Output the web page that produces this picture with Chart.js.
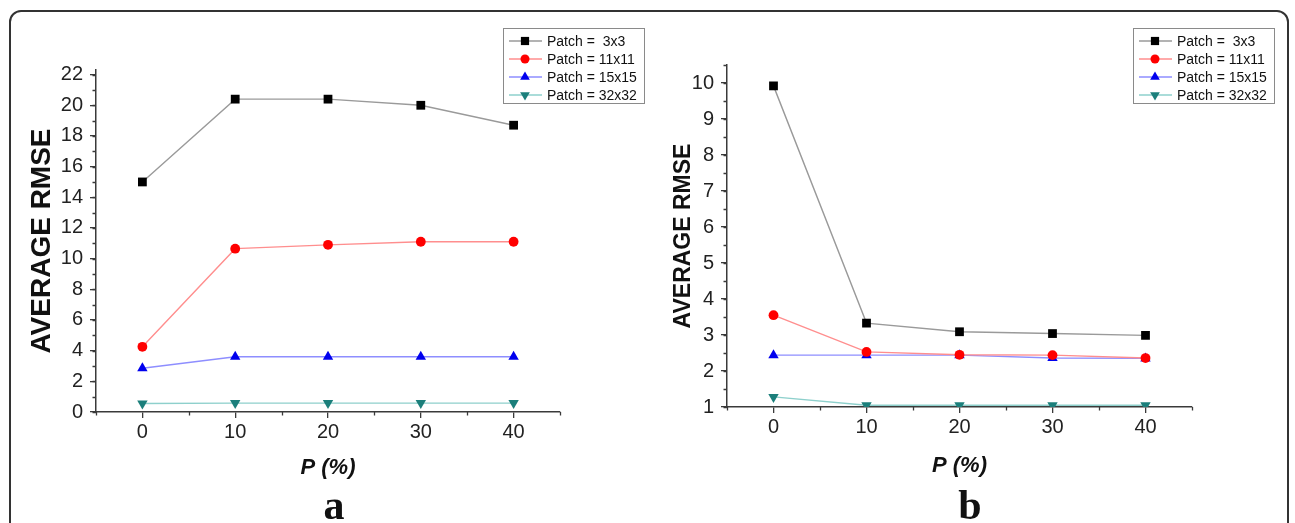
<!DOCTYPE html>
<html>
<head>
<meta charset="utf-8">
<script src="https://cdn.jsdelivr.net/npm/chart.js@4.4.1/dist/chart.umd.min.js"></script>
<style>
  html, body { margin: 0; padding: 0; background: #fff; }
  #page { position: relative; width: 1295px; height: 523px; overflow: hidden; background: #fff; }
  #frame { position: absolute; left: 9px; top: 10px; width: 1280px; height: 560px;
           border: 2px solid #333; border-radius: 12px; box-sizing: border-box; }
  canvas { position: absolute; }
  .panel { position: absolute; width: 60px; text-align: center; color: #111;
           font: bold 42px "Liberation Serif", serif; line-height: 42px; }
</style>
</head>
<body>
<div id="page">
  <div id="frame"></div>
  <canvas id="chartA" width="640" height="470" style="left:10px; top:20px;"></canvas>
  <canvas id="chartB" width="640" height="470" style="left:650px; top:20px;"></canvas>
  <div class="panel" style="left:304px; top:484px;">a</div>
  <div class="panel" style="left:940px; top:484px;">b</div>
</div>
<script>
// x positions shared by both panels
const xValues = [0, 10, 20, 30, 40];
const xTicks = [0, 10, 20, 30, 40];
const seriesLabels = ['Patch =  3x3', 'Patch = 11x11', 'Patch = 15x15', 'Patch = 32x32'];

// panel a
const a3x3 = [15.0, 20.4, 20.4, 20.0, 18.7];
const a11x11 = [4.25, 10.65, 10.9, 11.1, 11.1];
const a15x15 = [2.85, 3.6, 3.6, 3.6, 3.6];
const a32x32 = [0.55, 0.58, 0.58, 0.58, 0.58];
const aYTicks = [0, 2, 4, 6, 8, 10, 12, 14, 16, 18, 20, 22];

// panel b
const b3x3 = [9.92, 3.33, 3.09, 3.04, 2.99];
const b11x11 = [3.55, 2.53, 2.45, 2.44, 2.36];
const b15x15 = [2.44, 2.44, 2.44, 2.36, 2.35];
const b32x32 = [1.28, 1.05, 1.05, 1.05, 1.05];
const bYTicks = [1, 2, 3, 4, 5, 6, 7, 8, 9, 10];

const lineColors = ['#9a9a9a', '#ff8e8e', '#8e8eff', '#8ed0cc'];
const markColors = ['#000000', '#ff0000', '#0000ee', '#1b7f7b'];
const markStyles = ['rect', 'circle', 'triangle', 'triangle'];
const markRotation = [0, 0, 0, 180];
const markRadius = [6.2, 4.9, 6.0, 6.0];

const FONT = '"Liberation Sans", Arial, sans-serif';
const AXIS = '#3a3a3a';

function buildDatasets (series) {
  return series.map((vals, i) => ({
    label: seriesLabels[i],
    data: vals.map((v, j) => ({ x: xValues[j], y: v })),
    borderColor: lineColors[i],
    borderWidth: 1.4,
    backgroundColor: markColors[i],
    pointBackgroundColor: markColors[i],
    pointBorderColor: markColors[i],
    pointBorderWidth: 0,
    pointStyle: markStyles[i],
    rotation: markRotation[i],
    pointRadius: markRadius[i],
    tension: 0
  }))
}

// small unlabelled ticks between the labelled ones
const minorTicks = {
  id: 'minorTicks',
  afterDraw (chart, args, opts) {
    const { ctx, chartArea, scales } = chart
    ctx.save()
    ctx.strokeStyle = AXIS
    ctx.lineWidth = 1.3
    ctx.beginPath()
    const xs = scales.x
    const nx = Math.round((xs.max - xs.min) / opts.xStep)
    for (let k = 0; k <= nx; k++) {
      const v = xs.min + k * opts.xStep
      if (xTicks.includes(v)) continue
      const px = Math.round(xs.getPixelForValue(v)) + 0.5
      ctx.moveTo(px, chartArea.bottom)
      ctx.lineTo(px, chartArea.bottom + 3.5)
    }
    const ys = scales.y
    const ny = Math.floor((ys.max - ys.min) / opts.yStep + 1e-6)
    for (let k = 0; k <= ny; k++) {
      const v = ys.min + k * opts.yStep
      const py = Math.round(ys.getPixelForValue(v)) + 0.5
      ctx.moveTo(chartArea.left, py)
      ctx.lineTo(chartArea.left - 3.5, py)
    }
    ctx.stroke()
    ctx.restore()
  }
}

// boxed legend sitting over the top right of the plot
const boxLegend = {
  id: 'boxLegend',
  afterDraw (chart, args, opts) {
    const { ctx } = chart
    ctx.save()
    ctx.fillStyle = '#fff'
    ctx.fillRect(opts.x, opts.y, opts.w, opts.h)
    ctx.strokeStyle = '#8a8a8a'
    ctx.lineWidth = 1
    ctx.strokeRect(opts.x + 0.5, opts.y + 0.5, opts.w, opts.h)
    ctx.font = '14px ' + FONT
    ctx.textBaseline = 'middle'
    chart.data.datasets.forEach((ds, i) => {
      const cy = opts.y + 13 + i * 18
      ctx.strokeStyle = ds.borderColor
      ctx.lineWidth = 1.3
      ctx.beginPath()
      ctx.moveTo(opts.x + 6, cy)
      ctx.lineTo(opts.x + 39, cy)
      ctx.stroke()
      ctx.fillStyle = ds.pointBackgroundColor
      Chart.helpers.drawPoint(ctx, {
        pointStyle: ds.pointStyle, rotation: ds.rotation, radius: ds.pointRadius - 0.4, borderWidth: 0
      }, opts.x + 22, cy)
      ctx.fillStyle = '#111'
      ctx.fillText(ds.label, opts.x + 44, cy + 1)
    })
    ctx.restore()
  }
}

function makeChart (id, series, yTicks, o) {
  return new Chart(document.getElementById(id), {
    type: 'line',
    data: { datasets: buildDatasets(series) },
    plugins: [minorTicks, boxLegend],
    options: {
      responsive: false,
      animation: false,
      layout: { padding: o.padding },
      plugins: {
        legend: { display: false },
        tooltip: { enabled: false },
        minorTicks: { xStep: 5, yStep: o.yMinor },
        boxLegend: o.legend
      },
      scales: {
        x: {
          type: 'linear',
          min: -5,
          max: 45,
          afterBuildTicks: s => { s.ticks = xTicks.map(v => ({ value: v })) },
          afterFit: s => { s.height = o.xHeight; s.paddingLeft = 0; s.paddingRight = 0 },
          grid: { drawOnChartArea: false, tickLength: 6, color: AXIS, lineWidth: 1.3 },
          border: { color: AXIS, width: 1.5 },
          ticks: { font: { family: FONT, size: 20 }, color: '#222', padding: 2 },
          title: {
            display: true,
            text: 'P (%)',
            color: '#111',
            font: { family: FONT, size: 22, weight: 'bold', style: 'italic' },
            padding: { top: 0, bottom: o.xTitlePad }
          }
        },
        y: {
          type: 'linear',
          min: o.yMin,
          max: o.yMax,
          afterBuildTicks: s => { s.ticks = yTicks.map(v => ({ value: v })) },
          afterFit: s => { s.width = o.yWidth; s.paddingTop = 0; s.paddingBottom = 0 },
          grid: { drawOnChartArea: false, tickLength: 6, color: AXIS, lineWidth: 1.3 },
          border: { color: AXIS, width: 1.5 },
          ticks: { font: { family: FONT, size: 20 }, color: '#222', padding: 7 },
          title: {
            display: true,
            text: 'AVERAGE RMSE',
            color: '#111',
            font: { family: FONT, size: o.yTitleSize, weight: 'bold' },
            padding: { top: o.yTitlePad, bottom: 0 }
          }
        }
      }
    }
  })
}

makeChart('chartA', [a3x3, a11x11, a15x15, a32x32], aYTicks, {
  yMin: 0, yMax: 22.3, yMinor: 1,
  padding: { top: 50, right: 90, left: 0, bottom: 0 },
  yWidth: 86, xHeight: 78,
  yTitleSize: 28, yTitlePad: 15, xTitlePad: 9,
  legend: { x: 493, y: 8, w: 141, h: 75 }
})

makeChart('chartB', [b3x3, b11x11, b15x15, b32x32], bYTicks, {
  yMin: 1, yMax: 10.5, yMinor: 0.5,
  padding: { top: 45, right: 98, left: 0, bottom: 0 },
  yWidth: 77, xHeight: 83,
  yTitleSize: 23, yTitlePad: 20, xTitlePad: 11,
  legend: { x: 483, y: 8, w: 141, h: 75 }
})
</script>
</body>
</html>
